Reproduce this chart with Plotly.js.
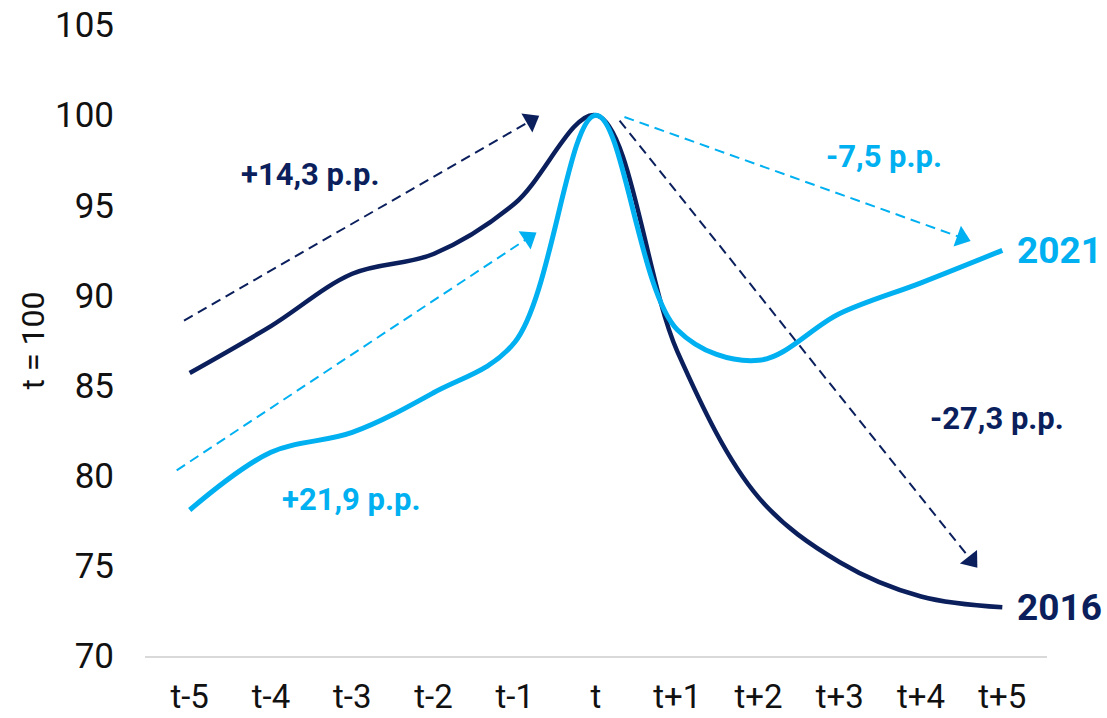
<!DOCTYPE html>
<html>
<head>
<meta charset="utf-8">
<script src="https://cdn.plot.ly/plotly-3.0.1.min.js"></script>
<style>
  html, body { margin: 0; padding: 0; background: #ffffff; }
  #chart { width: 1107px; height: 718px; }
</style>
</head>
<body>
<div id="chart"></div>
<script>
// Periods around the peak year t
const categories = ['t-5', 't-4', 't-3', 't-2', 't-1', 't', 't+1', 't+2', 't+3', 't+4', 't+5'];

// Index, t = 100
const series2016 = [85.7, 88.3, 91.2, 92.3, 95.1, 100, 86.9, 78.8, 75.2, 73.3, 72.7];
const series2021 = [78.1, 81.3, 82.4, 84.6, 87.4, 100, 88.1, 86.4, 89.0, 90.7, 92.5];

// Trend arrows: [start, end] in period index / index units
const arrowUp2016x = [-0.07, 4.2];
const arrowUp2016y = [88.6, 99.7];
const arrowUp2021x = [-0.16, 4.17];
const arrowUp2021y = [80.3, 93.2];
const arrowDown2021x = [5.35, 9.5];
const arrowDown2021y = [99.9, 93.2];
const arrowDown2016x = [5.29, 9.62];
const arrowDown2016y = [99.7, 75.3];

// Change labels
const changeLabels = ['+14,3 p.p.', '+21,9 p.p.', '-7,5 p.p.', '-27,3 p.p.'];
const changeLabelX = [1.48, 1.98, 8.54, 9.94];
const changeLabelY = [96.7, 78.7, 97.7, 83.2];

const DARK = '#0a1f5c';
const LIGHT = '#00b0f0';
const changeLabelColors = [DARK, LIGHT, LIGHT, DARK];
const FONT = 'Roboto, "Open Sans", sans-serif';

const xIdx = categories.map((_, i) => i);

function arrowTrace(xs, ys, color) {
  return {
    x: xs, y: ys, type: 'scatter', mode: 'lines+markers',
    line: { color: color, width: 2, dash: '10px,6px' },
    marker: { symbol: 'triangle-up', size: [0, 19], color: color, opacity: 1,
              angleref: 'previous', line: { width: 0 } },
    hoverinfo: 'skip', showlegend: false
  };
}

const traces = [
  arrowTrace(arrowUp2016x, arrowUp2016y, DARK),
  arrowTrace(arrowUp2021x, arrowUp2021y, LIGHT),
  arrowTrace(arrowDown2021x, arrowDown2021y, LIGHT),
  arrowTrace(arrowDown2016x, arrowDown2016y, DARK),
  {
    x: xIdx, y: series2016, name: '2016', type: 'scatter', mode: 'lines',
    line: { color: DARK, width: 4.5, shape: 'spline', smoothing: 1 }
  },
  {
    x: xIdx, y: series2021, name: '2021', type: 'scatter', mode: 'lines',
    line: { color: LIGHT, width: 5, shape: 'spline', smoothing: 1 }
  }
];

const annotations = changeLabels.map((t, i) => ({
  x: changeLabelX[i], y: changeLabelY[i], xref: 'x', yref: 'y',
  text: '<b>' + t + '</b>', showarrow: false,
  font: { family: FONT, size: 31, color: changeLabelColors[i] }
}));
annotations.push(
  { x: xIdx[10], y: series2021[10], xref: 'x', yref: 'y', text: '<b>2021</b>', showarrow: false,
    xanchor: 'left', xshift: 13, font: { family: FONT, size: 37, color: LIGHT } },
  { x: xIdx[10], y: series2016[10], xref: 'x', yref: 'y', text: '<b>2016</b>', showarrow: false,
    xanchor: 'left', xshift: 13, font: { family: FONT, size: 37, color: DARK } }
);

const layout = {
  width: 1107, height: 718,
  margin: { l: 145, r: 60, t: 25, b: 62 },
  paper_bgcolor: '#ffffff', plot_bgcolor: '#ffffff',
  showlegend: false,
  font: { family: FONT, color: '#111111' },
  xaxis: {
    range: [-0.55, 10.55],
    tickmode: 'array', tickvals: xIdx, ticktext: categories,
    showgrid: false, zeroline: false,
    showline: true, linecolor: '#d9d9d9', linewidth: 2,
    ticks: '', ticklabelstandoff: 10,
    tickfont: { family: FONT, size: 33, color: '#111111' }
  },
  yaxis: {
    range: [70, 105], dtick: 5, tick0: 70,
    showgrid: false, zeroline: false, showline: false,
    ticks: '', ticklabelstandoff: 30,
    tickfont: { family: FONT, size: 35, color: '#111111' },
    title: { text: 't = 100', font: { family: FONT, size: 32, color: '#111111' }, standoff: 0 }
  },
  annotations: annotations
};

Plotly.newPlot('chart', traces, layout, { displayModeBar: false, staticPlot: true });
</script>
</body>
</html>
